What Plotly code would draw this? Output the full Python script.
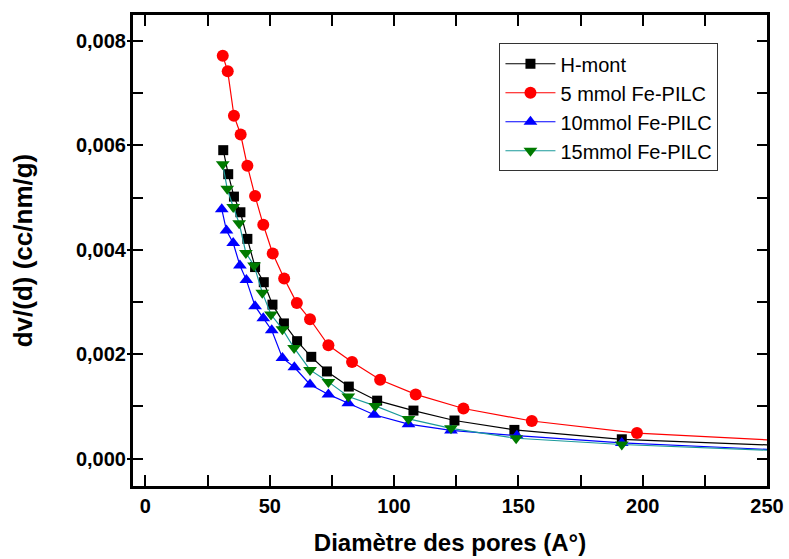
import plotly.graph_objects as go

# Pore diameter (A°) and dV/dD (cc/nm/g)
x_hmont = [31.3, 33.3, 35.6, 38.2, 41.0, 44.1, 47.6, 51.1, 55.7, 61.0, 66.7, 73.0, 81.8, 93.2, 107.8, 124.3, 148.4, 191.6, 260.0]
y_hmont = [0.00591, 0.00545, 0.00502, 0.00472, 0.00421, 0.00367, 0.00338, 0.00295, 0.00259, 0.00225, 0.00195,
           0.00167, 0.00138, 0.00111, 0.00092, 0.00073, 0.00055, 0.00037, 0.000244]

x_fe5 = [31.1, 33.1, 35.6, 38.3, 41.0, 44.1, 47.4, 51.2, 55.8, 60.9, 66.2, 73.6, 83.1, 94.4, 108.7, 127.9, 155.4, 197.7, 260.0]
y_fe5 = [0.00772, 0.00742, 0.00657, 0.00621, 0.00561, 0.00503, 0.00448, 0.00393, 0.00345, 0.00298, 0.00267,
         0.00217, 0.00185, 0.00151, 0.00123, 0.00096, 0.00072, 0.00049, 0.000334]

x_fe10 = [30.7, 32.6, 35.3, 38.0, 40.6, 44.1, 47.4, 50.8, 55.1, 59.9, 66.2, 73.6, 81.6, 92.0, 105.8, 122.9, 149.4, 191.6, 260.0]
y_fe10 = [0.00478, 0.00437, 0.00413, 0.00370, 0.00342, 0.00292, 0.00269, 0.00246, 0.00193, 0.00175, 0.00142,
          0.00123, 0.00106, 0.00084, 0.00066, 0.00054, 0.00044, 0.00030, 0.000156]

x_fe15 = [31.1, 32.9, 35.3, 37.7, 40.4, 43.7, 47.0, 50.5, 55.1, 59.8, 66.2, 73.6, 81.6, 92.4, 105.8, 122.9, 149.1, 191.6, 260.0]
y_fe15 = [0.00564, 0.00517, 0.00482, 0.00451, 0.00394, 0.00370, 0.00318, 0.00276, 0.00248, 0.00212, 0.00170,
          0.00147, 0.00119, 0.00101, 0.00076, 0.00058, 0.00039, 0.00027, 0.000142]

names = ["H-mont", "5 mmol Fe-PILC", "10mmol Fe-PILC", "15mmol Fe-PILC"]
x_ticks = [0, 50, 100, 150, 200, 250]
y_ticks = [0.000, 0.002, 0.004, 0.006, 0.008]

FONT = "Liberation Sans, Arial, sans-serif"

fig = go.Figure()
series = [
    (x_hmont, y_hmont, names[0], "black", "black", "square", 10),
    (x_fe5, y_fe5, names[1], "red", "red", "circle", 12),
    (x_fe10, y_fe10, names[2], "blue", "blue", "triangle-up", 12),
    (x_fe15, y_fe15, names[3], "#1a9a9a", "#007a00", "triangle-down", 12),
]
for xs, ys, nm, lc, mc, sym, sz in series:
    fig.add_trace(go.Scatter(
        x=xs, y=ys, name=nm, mode="lines+markers",
        line=dict(color=lc, width=1.2),
        marker=dict(symbol=sym, size=sz, color=mc, line=dict(width=0)),
    ))

# invisible trace on the overlay axis for outward major y ticks
fig.add_trace(go.Scatter(x=[None], y=[None], yaxis="y2", showlegend=False, hoverinfo="skip"))

yr = [-0.000525, 0.0085]
fig.update_layout(
    width=789, height=559,
    margin=dict(l=133, r=22, t=15, b=73, autoexpand=False),
    paper_bgcolor="white", plot_bgcolor="white",
    separators=", ",
    font=dict(family=FONT, color="black"),
    showlegend=True,
    legend=dict(
        x=0.578, y=0.94, xanchor="left", yanchor="top",
        bgcolor="white", bordercolor="#333333", borderwidth=1,
        font=dict(family=FONT, size=20, color="black"),
        tracegroupgap=0, itemwidth=50,
        entrywidth=212, entrywidthmode="pixels",
    ),
    xaxis=dict(
        range=[-5, 250], tickmode="array", tickvals=x_ticks,
        ticktext=[str(v) for v in x_ticks], automargin=False,
        ticks="inside", ticklen=11, tickwidth=2, tickcolor="black",
        minor=dict(dtick=25, tick0=0, ticks="inside", ticklen=6, tickwidth=2, tickcolor="black"),
        showline=True, linewidth=3, linecolor="black", mirror="allticks",
        showgrid=False, zeroline=False,
        tickfont=dict(family=FONT, size=20, weight="bold"),
        title=dict(text="Diamètre des pores (A°)", font=dict(family=FONT, size=24, weight="bold"), standoff=19),
    ),
    yaxis=dict(
        range=yr, tickmode="array", tickvals=y_ticks,
        ticktext=[f"{v:.3f}".replace(".", ",") for v in y_ticks], automargin=False,
        ticks="inside", ticklen=10, tickwidth=2, tickcolor="black",
        minor=dict(dtick=0.001, tick0=0, ticks="inside", ticklen=10, tickwidth=2, tickcolor="black"),
        showline=True, linewidth=3, linecolor="black", mirror="allticks",
        showgrid=False, zeroline=False,
        tickfont=dict(family=FONT, size=20, weight="bold"),
        title=dict(text="dv/(d) (cc/nm/g)", font=dict(family=FONT, size=26, weight="bold"), standoff=36),
    ),
    yaxis2=dict(
        range=yr, overlaying="y", side="left", tickmode="array", tickvals=y_ticks,
        showticklabels=False, ticks="outside", ticklen=5, tickwidth=2, tickcolor="black",
        showline=False, showgrid=False, zeroline=False, automargin=False,
    ),
)

fig.write_html("out.html")
